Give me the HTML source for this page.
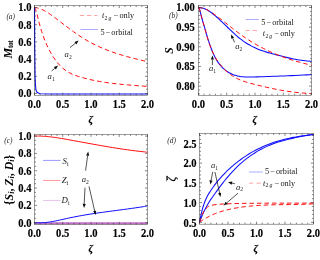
<!DOCTYPE html>
<html><head><meta charset="utf-8"><title>figure</title>
<style>html,body{margin:0;padding:0;background:#fff;}body{width:320px;height:260px;overflow:hidden;font-family:"Liberation Serif",serif;}svg{display:block;font-family:"Liberation Serif",serif;will-change:transform;}</style>
</head><body>
<svg width="320" height="260" viewBox="0 0 320 260">
<rect width="320" height="260" fill="#fff"/>
<path d="M34.45 7.5 C34.56 7.51 34.86 7.53 35.09 7.55 C35.32 7.58 35.55 7.61 35.81 7.64 C36.06 7.68 36.32 7.72 36.6 7.78 C36.88 7.83 37.17 7.89 37.47 7.96 C37.77 8.03 38.09 8.11 38.42 8.21 C38.74 8.3 39.09 8.41 39.44 8.52 C39.79 8.64 40.16 8.77 40.54 8.92 C40.92 9.06 41.31 9.22 41.72 9.4 C42.12 9.57 42.54 9.76 42.97 9.97 C43.4 10.18 43.85 10.4 44.3 10.65 C44.76 10.89 45.23 11.15 45.71 11.42 C46.19 11.7 46.69 12 47.19 12.31 C47.7 12.63 48.22 12.96 48.75 13.31 C49.29 13.66 49.83 14.03 50.39 14.42 C50.95 14.8 51.52 15.21 52.11 15.63 C52.69 16.05 53.29 16.49 53.9 16.94 C54.51 17.39 55.13 17.86 55.77 18.34 C56.4 18.82 57.05 19.32 57.71 19.82 C58.37 20.33 59.04 20.84 59.73 21.37 C60.42 21.89 61.12 22.43 61.83 22.97 C62.54 23.51 63.27 24.07 64 24.63 C64.74 25.19 65.49 25.76 66.26 26.34 C67.02 26.92 67.8 27.5 68.59 28.09 C69.37 28.68 70.18 29.27 70.99 29.87 C71.8 30.47 72.63 31.07 73.47 31.67 C74.31 32.28 75.17 32.88 76.03 33.49 C76.9 34.09 77.78 34.69 78.67 35.29 C79.56 35.89 80.46 36.49 81.38 37.08 C82.3 37.67 83.23 38.25 84.17 38.83 C85.11 39.41 86.07 39.97 87.03 40.53 C88 41.09 88.98 41.64 89.98 42.18 C90.97 42.72 91.98 43.25 93 43.78 C94.02 44.3 95.05 44.81 96.09 45.32 C97.14 45.82 98.2 46.32 99.27 46.8 C100.34 47.28 101.42 47.76 102.52 48.22 C103.61 48.69 104.72 49.15 105.84 49.59 C106.96 50.04 108.1 50.47 109.25 50.9 C110.39 51.33 111.55 51.74 112.73 52.15 C113.9 52.56 115.08 52.96 116.28 53.35 C117.48 53.74 118.69 54.13 119.92 54.5 C121.14 54.88 122.38 55.24 123.63 55.61 C124.88 55.97 126.14 56.32 127.41 56.67 C128.69 57.02 129.98 57.36 131.28 57.7 C132.58 58.04 133.89 58.38 135.22 58.71 C136.54 59.04 137.88 59.37 139.23 59.7 C140.59 60.03 141.95 60.36 143.33 60.69 C144.71 61.02 146.8 61.52 147.5 61.68" fill="none" stroke="#ff0d0d" stroke-width="1.0" stroke-dasharray="4.5 3" stroke-linejoin="round"/>
<path d="M34.45 7.5 C34.56 7.64 34.86 7.9 35.09 8.33 C35.32 8.76 35.55 9.35 35.81 10.08 C36.06 10.82 36.32 11.74 36.6 12.75 C36.88 13.76 37.17 14.96 37.47 16.15 C37.77 17.35 38.09 18.65 38.42 19.92 C38.74 21.2 39.09 22.5 39.44 23.8 C39.79 25.1 40.16 26.42 40.54 27.71 C40.92 29.01 41.31 30.32 41.72 31.59 C42.12 32.87 42.54 34.13 42.97 35.36 C43.4 36.6 43.85 37.81 44.3 38.99 C44.76 40.18 45.23 41.34 45.71 42.47 C46.19 43.61 46.69 44.71 47.19 45.8 C47.7 46.89 48.22 47.95 48.75 49 C49.29 50.05 49.83 51.08 50.39 52.09 C50.95 53.1 51.52 54.1 52.11 55.06 C52.69 56.02 53.29 56.97 53.9 57.88 C54.51 58.79 55.13 59.67 55.77 60.53 C56.4 61.38 57.05 62.21 57.71 63 C58.37 63.79 59.04 64.54 59.73 65.27 C60.42 65.99 61.12 66.68 61.83 67.34 C62.54 67.99 63.27 68.61 64 69.2 C64.74 69.78 65.49 70.33 66.26 70.85 C67.02 71.37 67.8 71.85 68.59 72.31 C69.37 72.76 70.18 73.18 70.99 73.58 C71.8 73.97 72.63 74.34 73.47 74.68 C74.31 75.03 75.17 75.34 76.03 75.65 C76.9 75.96 77.78 76.24 78.67 76.51 C79.56 76.79 80.46 77.06 81.38 77.32 C82.3 77.58 83.23 77.84 84.17 78.09 C85.11 78.34 86.07 78.59 87.03 78.83 C88 79.07 88.98 79.3 89.98 79.53 C90.97 79.76 91.98 79.98 93 80.2 C94.02 80.41 95.05 80.62 96.09 80.82 C97.14 81.03 98.2 81.22 99.27 81.41 C100.34 81.6 101.42 81.78 102.52 81.96 C103.61 82.14 104.72 82.31 105.84 82.48 C106.96 82.64 108.1 82.8 109.25 82.95 C110.39 83.11 111.55 83.25 112.73 83.39 C113.9 83.54 115.08 83.67 116.28 83.81 C117.48 83.94 118.69 84.06 119.92 84.19 C121.14 84.31 122.38 84.43 123.63 84.54 C124.88 84.66 126.14 84.77 127.41 84.88 C128.69 84.99 129.98 85.09 131.28 85.2 C132.58 85.3 133.89 85.4 135.22 85.51 C136.54 85.61 137.88 85.71 139.23 85.81 C140.59 85.92 141.95 86.02 143.33 86.12 C144.71 86.23 146.8 86.39 147.5 86.45" fill="none" stroke="#ff0d0d" stroke-width="1.0" stroke-dasharray="4.5 3" stroke-linejoin="round"/>
<path d="M34.51 7.5 L34.73 50.5 L35.07 76.3 L35.52 86.02 L35.98 90.06 L36.99 92.21 L38.97 93.33 L40.1 93.76 L51.41 94.02 L147.5 94.02" fill="none" stroke="#0d0dff" stroke-width="1.1" stroke-linejoin="round"/>
<rect x="34.45" y="5.5" width="113.05" height="89.7" fill="none" stroke="#1a1a1a" stroke-width="0.42"/>
<path d="M34.45 95.2v-2.5 M34.45 5.5v2.5 M62.71 95.2v-2.5 M62.71 5.5v2.5 M90.97 95.2v-2.5 M90.97 5.5v2.5 M119.24 95.2v-2.5 M119.24 5.5v2.5 M147.5 95.2v-2.5 M147.5 5.5v2.5 M40.1 95.2v-1.5 M40.1 5.5v1.5 M45.76 95.2v-1.5 M45.76 5.5v1.5 M51.41 95.2v-1.5 M51.41 5.5v1.5 M57.06 95.2v-1.5 M57.06 5.5v1.5 M68.37 95.2v-1.5 M68.37 5.5v1.5 M74.02 95.2v-1.5 M74.02 5.5v1.5 M79.67 95.2v-1.5 M79.67 5.5v1.5 M85.32 95.2v-1.5 M85.32 5.5v1.5 M96.63 95.2v-1.5 M96.63 5.5v1.5 M102.28 95.2v-1.5 M102.28 5.5v1.5 M107.93 95.2v-1.5 M107.93 5.5v1.5 M113.58 95.2v-1.5 M113.58 5.5v1.5 M124.89 95.2v-1.5 M124.89 5.5v1.5 M130.54 95.2v-1.5 M130.54 5.5v1.5 M136.19 95.2v-1.5 M136.19 5.5v1.5 M141.85 95.2v-1.5 M141.85 5.5v1.5 M34.45 93.5h2.5 M147.5 93.5h-2.5 M34.45 76.3h2.5 M147.5 76.3h-2.5 M34.45 59.1h2.5 M147.5 59.1h-2.5 M34.45 41.9h2.5 M147.5 41.9h-2.5 M34.45 24.7h2.5 M147.5 24.7h-2.5 M34.45 7.5h2.5 M147.5 7.5h-2.5 M34.45 89.2h1.5 M147.5 89.2h-1.5 M34.45 84.9h1.5 M147.5 84.9h-1.5 M34.45 80.6h1.5 M147.5 80.6h-1.5 M34.45 72h1.5 M147.5 72h-1.5 M34.45 67.7h1.5 M147.5 67.7h-1.5 M34.45 63.4h1.5 M147.5 63.4h-1.5 M34.45 54.8h1.5 M147.5 54.8h-1.5 M34.45 50.5h1.5 M147.5 50.5h-1.5 M34.45 46.2h1.5 M147.5 46.2h-1.5 M34.45 37.6h1.5 M147.5 37.6h-1.5 M34.45 33.3h1.5 M147.5 33.3h-1.5 M34.45 29h1.5 M147.5 29h-1.5 M34.45 20.4h1.5 M147.5 20.4h-1.5 M34.45 16.1h1.5 M147.5 16.1h-1.5 M34.45 11.8h1.5 M147.5 11.8h-1.5" fill="none" stroke="#333" stroke-width="0.6"/>
<text transform="translate(31.5 97.3) scale(0.88 1)" font-size="12" font-weight="bold" font-style="normal" text-anchor="end" fill="#000" stroke="#000" stroke-width="0.15">0.0</text>
<text transform="translate(31.5 80.1) scale(0.88 1)" font-size="12" font-weight="bold" font-style="normal" text-anchor="end" fill="#000" stroke="#000" stroke-width="0.15">0.2</text>
<text transform="translate(31.5 62.9) scale(0.88 1)" font-size="12" font-weight="bold" font-style="normal" text-anchor="end" fill="#000" stroke="#000" stroke-width="0.15">0.4</text>
<text transform="translate(31.5 45.7) scale(0.88 1)" font-size="12" font-weight="bold" font-style="normal" text-anchor="end" fill="#000" stroke="#000" stroke-width="0.15">0.6</text>
<text transform="translate(31.5 28.5) scale(0.88 1)" font-size="12" font-weight="bold" font-style="normal" text-anchor="end" fill="#000" stroke="#000" stroke-width="0.15">0.8</text>
<text transform="translate(31.5 11.3) scale(0.88 1)" font-size="12" font-weight="bold" font-style="normal" text-anchor="end" fill="#000" stroke="#000" stroke-width="0.15">1.0</text>
<text transform="translate(34.45 108) scale(0.88 1)" font-size="12" font-weight="bold" font-style="normal" text-anchor="middle" fill="#000" stroke="#000" stroke-width="0.15">0.0</text>
<text transform="translate(62.71 108) scale(0.88 1)" font-size="12" font-weight="bold" font-style="normal" text-anchor="middle" fill="#000" stroke="#000" stroke-width="0.15">0.5</text>
<text transform="translate(90.97 108) scale(0.88 1)" font-size="12" font-weight="bold" font-style="normal" text-anchor="middle" fill="#000" stroke="#000" stroke-width="0.15">1.0</text>
<text transform="translate(119.24 108) scale(0.88 1)" font-size="12" font-weight="bold" font-style="normal" text-anchor="middle" fill="#000" stroke="#000" stroke-width="0.15">1.5</text>
<text transform="translate(147.5 108) scale(0.88 1)" font-size="12" font-weight="bold" font-style="normal" text-anchor="middle" fill="#000" stroke="#000" stroke-width="0.15">2.0</text>
<text x="90.7" y="122.7" font-size="10.5" font-weight="bold" font-style="italic" text-anchor="middle" fill="#000" stroke="#000" stroke-width="0.15">&#950;</text>
<text transform="translate(12.4 58.6) rotate(-90)" font-size="12" font-weight="bold" font-style="italic" text-anchor="start">M<tspan font-size="7.4" font-style="normal" dy="0.9" letter-spacing="-0.45">tot</tspan></text>
<text x="10.7" y="18.5" font-size="7.4" font-weight="normal" font-style="italic" text-anchor="middle" fill="#222" >(a)</text>
<path d="M79.8 15.5H97.4" stroke="#ff0d0d" stroke-width="0.6" stroke-dasharray="4.3 2.9" fill="none" opacity="0.62"/>
<path d="M80.4 29.5H97.9" stroke="#0d0dff" stroke-width="0.6" fill="none" opacity="0.58"/>
<text y="17.8" font-size="8.25" fill="#1a1a1a"><tspan x="102" font-style="italic">t</tspan><tspan x="104.6" dy="1.7" font-size="5.8">2</tspan><tspan x="108.5" font-size="5.8" font-style="italic">g</tspan><tspan x="113.8" dy="-1.7">&#8722;</tspan><tspan x="119.4">only</tspan></text>
<text y="34.8" font-size="8.25" fill="#1a1a1a"><tspan x="100.4">5</tspan><tspan x="105.8">&#8722;</tspan><tspan x="111.3">orbital</tspan></text>
<text x="64.6" y="57.2" font-size="8.6" font-style="italic" font-weight="normal" fill="#222">a<tspan font-size="5.6" font-style="normal" dy="1.8">2</tspan></text>
<text x="47.6" y="79.2" font-size="8.6" font-style="italic" font-weight="normal" fill="#222">a<tspan font-size="5.6" font-style="normal" dy="1.8">1</tspan></text>
<path d="M70 47.6L75.42 43.19" stroke="#0a0a0a" stroke-width="0.7" fill="none"/>
<path d="M78.6 40.6L76.4 44.39L74.44 41.99Z" fill="#0a0a0a"/>
<path d="M51.6 71L54.87 68.24" stroke="#0a0a0a" stroke-width="0.7" fill="none"/>
<path d="M58 65.6L55.87 69.43L53.87 67.06Z" fill="#0a0a0a"/>
<path d="M198.45 7.7 C198.56 7.69 198.86 7.67 199.09 7.67 C199.32 7.66 199.56 7.66 199.81 7.67 C200.06 7.68 200.32 7.7 200.6 7.73 C200.88 7.76 201.17 7.8 201.47 7.85 C201.77 7.9 202.09 7.97 202.42 8.05 C202.75 8.13 203.09 8.22 203.44 8.33 C203.8 8.45 204.16 8.57 204.54 8.72 C204.92 8.87 205.32 9.04 205.72 9.23 C206.13 9.41 206.54 9.62 206.97 9.85 C207.41 10.08 207.85 10.33 208.31 10.61 C208.76 10.89 209.23 11.18 209.71 11.51 C210.2 11.83 210.69 12.18 211.2 12.55 C211.71 12.92 212.23 13.31 212.76 13.73 C213.29 14.15 213.84 14.59 214.4 15.05 C214.96 15.52 215.53 16 216.11 16.51 C216.7 17.02 217.3 17.55 217.91 18.1 C218.52 18.64 219.14 19.22 219.77 19.81 C220.41 20.4 221.06 21.01 221.72 21.64 C222.38 22.26 223.06 22.91 223.74 23.58 C224.43 24.24 225.13 24.92 225.84 25.62 C226.55 26.31 227.28 27.02 228.02 27.74 C228.76 28.46 229.51 29.19 230.27 29.92 C231.03 30.66 231.81 31.4 232.6 32.14 C233.39 32.88 234.19 33.63 235.01 34.37 C235.82 35.11 236.65 35.84 237.49 36.56 C238.33 37.28 239.18 37.99 240.05 38.68 C240.92 39.37 241.79 40.04 242.69 40.68 C243.58 41.33 244.48 41.95 245.4 42.55 C246.32 43.15 247.25 43.73 248.19 44.29 C249.13 44.84 250.09 45.38 251.06 45.89 C252.03 46.4 253.01 46.89 254 47.36 C255 47.83 256 48.28 257.02 48.72 C258.04 49.15 259.07 49.56 260.12 49.95 C261.17 50.35 262.22 50.72 263.29 51.09 C264.37 51.45 265.45 51.79 266.55 52.13 C267.64 52.47 268.75 52.79 269.87 53.1 C271 53.42 272.13 53.72 273.28 54.02 C274.43 54.33 275.59 54.62 276.76 54.92 C277.93 55.22 279.12 55.52 280.32 55.82 C281.52 56.11 282.73 56.42 283.95 56.72 C285.18 57.01 286.42 57.31 287.67 57.6 C288.92 57.89 290.18 58.18 291.45 58.45 C292.73 58.73 294.02 58.99 295.32 59.24 C296.62 59.49 297.94 59.73 299.26 59.95 C300.59 60.17 301.93 60.37 303.28 60.54 C304.63 60.72 306 60.87 307.38 60.99 C308.76 61.11 310.85 61.21 311.55 61.26" fill="none" stroke="#0d0dff" stroke-width="1.08" stroke-linejoin="round"/>
<path d="M198.45 7.7 C198.56 7.76 198.86 7.64 199.09 8.05 C199.32 8.46 199.56 9.26 199.81 10.16 C200.06 11.05 200.32 12.31 200.6 13.42 C200.88 14.52 201.17 15.68 201.47 16.78 C201.77 17.89 202.09 18.92 202.42 20.05 C202.75 21.18 203.09 22.33 203.44 23.55 C203.8 24.77 204.16 26.05 204.54 27.37 C204.92 28.69 205.32 30.07 205.72 31.46 C206.13 32.86 206.54 34.31 206.97 35.75 C207.41 37.2 207.85 38.68 208.31 40.13 C208.76 41.57 209.23 43.03 209.71 44.43 C210.2 45.84 210.69 47.21 211.2 48.54 C211.71 49.86 212.23 51.15 212.76 52.38 C213.29 53.62 213.84 54.8 214.4 55.94 C214.96 57.07 215.53 58.15 216.11 59.18 C216.7 60.2 217.3 61.17 217.91 62.09 C218.52 63 219.14 63.86 219.77 64.66 C220.41 65.47 221.06 66.21 221.72 66.92 C222.38 67.62 223.06 68.26 223.74 68.87 C224.43 69.47 225.13 70.03 225.84 70.56 C226.55 71.08 227.28 71.57 228.02 72.03 C228.76 72.49 229.51 72.92 230.27 73.31 C231.03 73.7 231.81 74.06 232.6 74.39 C233.39 74.72 234.19 75.01 235.01 75.27 C235.82 75.53 236.65 75.76 237.49 75.96 C238.33 76.15 239.18 76.32 240.05 76.46 C240.92 76.6 241.79 76.71 242.69 76.79 C243.58 76.88 244.48 76.94 245.4 76.98 C246.32 77.02 247.25 77.03 248.19 77.04 C249.13 77.05 250.09 77.03 251.06 77.02 C252.03 77 253.01 76.97 254 76.94 C255 76.92 256 76.89 257.02 76.86 C258.04 76.83 259.07 76.8 260.12 76.76 C261.17 76.73 262.22 76.7 263.29 76.67 C264.37 76.63 265.45 76.6 266.55 76.56 C267.64 76.53 268.75 76.49 269.87 76.45 C271 76.41 272.13 76.37 273.28 76.33 C274.43 76.29 275.59 76.25 276.76 76.21 C277.93 76.16 279.12 76.12 280.32 76.07 C281.52 76.03 282.73 75.98 283.95 75.93 C285.18 75.88 286.42 75.83 287.67 75.78 C288.92 75.72 290.18 75.67 291.45 75.61 C292.73 75.56 294.02 75.5 295.32 75.44 C296.62 75.38 297.94 75.32 299.26 75.26 C300.59 75.19 301.93 75.13 303.28 75.06 C304.63 74.99 306 74.92 307.38 74.85 C308.76 74.78 310.85 74.66 311.55 74.63" fill="none" stroke="#0d0dff" stroke-width="1.08" stroke-linejoin="round"/>
<path d="M198.45 7.7 C198.56 7.7 198.86 7.69 199.09 7.69 C199.32 7.69 199.56 7.7 199.81 7.72 C200.06 7.74 200.32 7.76 200.6 7.79 C200.88 7.83 201.17 7.87 201.47 7.93 C201.77 7.98 202.09 8.05 202.42 8.13 C202.75 8.21 203.09 8.3 203.44 8.41 C203.8 8.52 204.16 8.65 204.54 8.79 C204.92 8.93 205.32 9.08 205.72 9.26 C206.13 9.43 206.54 9.63 206.97 9.84 C207.41 10.05 207.85 10.28 208.31 10.53 C208.76 10.78 209.23 11.05 209.71 11.33 C210.2 11.62 210.69 11.93 211.2 12.26 C211.71 12.58 212.23 12.93 212.76 13.29 C213.29 13.65 213.84 14.03 214.4 14.43 C214.96 14.82 215.53 15.23 216.11 15.66 C216.7 16.08 217.3 16.53 217.91 16.98 C218.52 17.43 219.14 17.9 219.77 18.39 C220.41 18.87 221.06 19.37 221.72 19.88 C222.38 20.39 223.06 20.92 223.74 21.45 C224.43 21.99 225.13 22.54 225.84 23.1 C226.55 23.67 227.28 24.24 228.02 24.82 C228.76 25.41 229.51 26 230.27 26.61 C231.03 27.21 231.81 27.82 232.6 28.44 C233.39 29.05 234.19 29.68 235.01 30.31 C235.82 30.93 236.65 31.57 237.49 32.2 C238.33 32.83 239.18 33.47 240.05 34.1 C240.92 34.73 241.79 35.36 242.69 35.98 C243.58 36.61 244.48 37.23 245.4 37.85 C246.32 38.47 247.25 39.08 248.19 39.69 C249.13 40.3 250.09 40.91 251.06 41.51 C252.03 42.1 253.01 42.7 254 43.29 C255 43.87 256 44.45 257.02 45.03 C258.04 45.6 259.07 46.17 260.12 46.73 C261.17 47.29 262.22 47.85 263.29 48.39 C264.37 48.94 265.45 49.48 266.55 50.01 C267.64 50.54 268.75 51.06 269.87 51.57 C271 52.08 272.13 52.59 273.28 53.08 C274.43 53.58 275.59 54.07 276.76 54.55 C277.93 55.02 279.12 55.49 280.32 55.95 C281.52 56.41 282.73 56.86 283.95 57.3 C285.18 57.74 286.42 58.17 287.67 58.6 C288.92 59.02 290.18 59.43 291.45 59.84 C292.73 60.24 294.02 60.63 295.32 61.02 C296.62 61.4 297.94 61.78 299.26 62.15 C300.59 62.52 301.93 62.87 303.28 63.22 C304.63 63.57 306 63.92 307.38 64.25 C308.76 64.59 310.85 65.07 311.55 65.23" fill="none" stroke="#ff0d0d" stroke-width="1.0" stroke-dasharray="4.5 3" stroke-linejoin="round"/>
<path d="M198.45 7.7 C198.56 7.8 198.86 7.87 199.09 8.3 C199.32 8.73 199.56 9.47 199.81 10.29 C200.06 11.12 200.32 12.24 200.6 13.27 C200.88 14.3 201.17 15.4 201.47 16.49 C201.77 17.59 202.09 18.66 202.42 19.84 C202.75 21.01 203.09 22.23 203.44 23.53 C203.8 24.82 204.16 26.2 204.54 27.6 C204.92 29 205.32 30.47 205.72 31.93 C206.13 33.38 206.54 34.89 206.97 36.34 C207.41 37.79 207.85 39.24 208.31 40.64 C208.76 42.04 209.23 43.42 209.71 44.76 C210.2 46.09 210.69 47.39 211.2 48.65 C211.71 49.9 212.23 51.12 212.76 52.29 C213.29 53.46 213.84 54.58 214.4 55.66 C214.96 56.74 215.53 57.77 216.11 58.75 C216.7 59.74 217.3 60.68 217.91 61.57 C218.52 62.47 219.14 63.32 219.77 64.14 C220.41 64.96 221.06 65.73 221.72 66.49 C222.38 67.25 223.06 67.97 223.74 68.68 C224.43 69.38 225.13 70.07 225.84 70.72 C226.55 71.38 227.28 72.02 228.02 72.63 C228.76 73.23 229.51 73.82 230.27 74.38 C231.03 74.93 231.81 75.47 232.6 75.97 C233.39 76.48 234.19 76.96 235.01 77.42 C235.82 77.87 236.65 78.3 237.49 78.71 C238.33 79.12 239.18 79.51 240.05 79.87 C240.92 80.23 241.79 80.58 242.69 80.9 C243.58 81.23 244.48 81.53 245.4 81.83 C246.32 82.12 247.25 82.4 248.19 82.67 C249.13 82.94 250.09 83.19 251.06 83.45 C252.03 83.71 253.01 83.96 254 84.22 C255 84.47 256 84.73 257.02 84.99 C258.04 85.24 259.07 85.5 260.12 85.75 C261.17 86.01 262.22 86.26 263.29 86.51 C264.37 86.77 265.45 87.02 266.55 87.27 C267.64 87.52 268.75 87.76 269.87 88.01 C271 88.25 272.13 88.49 273.28 88.73 C274.43 88.96 275.59 89.2 276.76 89.42 C277.93 89.65 279.12 89.88 280.32 90.09 C281.52 90.31 282.73 90.52 283.95 90.72 C285.18 90.93 286.42 91.13 287.67 91.31 C288.92 91.5 290.18 91.68 291.45 91.85 C292.73 92.02 294.02 92.18 295.32 92.33 C296.62 92.48 297.94 92.62 299.26 92.75 C300.59 92.87 301.93 92.99 303.28 93.09 C304.63 93.18 306 93.27 307.38 93.34 C308.76 93.41 310.85 93.47 311.55 93.49" fill="none" stroke="#ff0d0d" stroke-width="1.0" stroke-dasharray="4.5 3" stroke-linejoin="round"/>
<rect x="198.45" y="5.6" width="113.1" height="89.6" fill="none" stroke="#1a1a1a" stroke-width="0.42"/>
<path d="M198.45 95.2v-2.5 M198.45 5.6v2.5 M226.72 95.2v-2.5 M226.72 5.6v2.5 M255 95.2v-2.5 M255 5.6v2.5 M283.27 95.2v-2.5 M283.27 5.6v2.5 M311.55 95.2v-2.5 M311.55 5.6v2.5 M204.1 95.2v-1.5 M204.1 5.6v1.5 M209.76 95.2v-1.5 M209.76 5.6v1.5 M215.41 95.2v-1.5 M215.41 5.6v1.5 M221.07 95.2v-1.5 M221.07 5.6v1.5 M232.38 95.2v-1.5 M232.38 5.6v1.5 M238.03 95.2v-1.5 M238.03 5.6v1.5 M243.69 95.2v-1.5 M243.69 5.6v1.5 M249.34 95.2v-1.5 M249.34 5.6v1.5 M260.66 95.2v-1.5 M260.66 5.6v1.5 M266.31 95.2v-1.5 M266.31 5.6v1.5 M271.97 95.2v-1.5 M271.97 5.6v1.5 M277.62 95.2v-1.5 M277.62 5.6v1.5 M288.93 95.2v-1.5 M288.93 5.6v1.5 M294.59 95.2v-1.5 M294.59 5.6v1.5 M300.24 95.2v-1.5 M300.24 5.6v1.5 M305.89 95.2v-1.5 M305.89 5.6v1.5 M198.45 86.1h2.5 M311.55 86.1h-2.5 M198.45 66.45h2.5 M311.55 66.45h-2.5 M198.45 46.8h2.5 M311.55 46.8h-2.5 M198.45 27.15h2.5 M311.55 27.15h-2.5 M198.45 7.5h2.5 M311.55 7.5h-2.5 M198.45 93.96h1.5 M311.55 93.96h-1.5 M198.45 90.03h1.5 M311.55 90.03h-1.5 M198.45 82.17h1.5 M311.55 82.17h-1.5 M198.45 78.24h1.5 M311.55 78.24h-1.5 M198.45 74.31h1.5 M311.55 74.31h-1.5 M198.45 70.38h1.5 M311.55 70.38h-1.5 M198.45 62.52h1.5 M311.55 62.52h-1.5 M198.45 58.59h1.5 M311.55 58.59h-1.5 M198.45 54.66h1.5 M311.55 54.66h-1.5 M198.45 50.73h1.5 M311.55 50.73h-1.5 M198.45 42.87h1.5 M311.55 42.87h-1.5 M198.45 38.94h1.5 M311.55 38.94h-1.5 M198.45 35.01h1.5 M311.55 35.01h-1.5 M198.45 31.08h1.5 M311.55 31.08h-1.5 M198.45 23.22h1.5 M311.55 23.22h-1.5 M198.45 19.29h1.5 M311.55 19.29h-1.5 M198.45 15.36h1.5 M311.55 15.36h-1.5 M198.45 11.43h1.5 M311.55 11.43h-1.5" fill="none" stroke="#333" stroke-width="0.6"/>
<text transform="translate(194.8 89.9) scale(0.88 1)" font-size="12" font-weight="bold" font-style="normal" text-anchor="end" fill="#000" stroke="#000" stroke-width="0.15">0.80</text>
<text transform="translate(194.8 70.25) scale(0.88 1)" font-size="12" font-weight="bold" font-style="normal" text-anchor="end" fill="#000" stroke="#000" stroke-width="0.15">0.85</text>
<text transform="translate(194.8 50.6) scale(0.88 1)" font-size="12" font-weight="bold" font-style="normal" text-anchor="end" fill="#000" stroke="#000" stroke-width="0.15">0.90</text>
<text transform="translate(194.8 30.95) scale(0.88 1)" font-size="12" font-weight="bold" font-style="normal" text-anchor="end" fill="#000" stroke="#000" stroke-width="0.15">0.95</text>
<text transform="translate(194.8 11.3) scale(0.88 1)" font-size="12" font-weight="bold" font-style="normal" text-anchor="end" fill="#000" stroke="#000" stroke-width="0.15">1.00</text>
<text transform="translate(198.45 108) scale(0.88 1)" font-size="12" font-weight="bold" font-style="normal" text-anchor="middle" fill="#000" stroke="#000" stroke-width="0.15">0.0</text>
<text transform="translate(226.72 108) scale(0.88 1)" font-size="12" font-weight="bold" font-style="normal" text-anchor="middle" fill="#000" stroke="#000" stroke-width="0.15">0.5</text>
<text transform="translate(255 108) scale(0.88 1)" font-size="12" font-weight="bold" font-style="normal" text-anchor="middle" fill="#000" stroke="#000" stroke-width="0.15">1.0</text>
<text transform="translate(283.27 108) scale(0.88 1)" font-size="12" font-weight="bold" font-style="normal" text-anchor="middle" fill="#000" stroke="#000" stroke-width="0.15">1.5</text>
<text transform="translate(311.55 108) scale(0.88 1)" font-size="12" font-weight="bold" font-style="normal" text-anchor="middle" fill="#000" stroke="#000" stroke-width="0.15">2.0</text>
<text x="254.7" y="122.7" font-size="10.5" font-weight="bold" font-style="italic" text-anchor="middle" fill="#000" stroke="#000" stroke-width="0.15">&#950;</text>
<text transform="translate(173.2 50.6) rotate(-90)" font-size="11.5" font-weight="bold" font-style="italic" text-anchor="middle">S</text>
<text x="173.3" y="18" font-size="7.4" font-weight="normal" font-style="italic" text-anchor="middle" fill="#222" >(b)</text>
<path d="M245.7 19.5H258.9" stroke="#0d0dff" stroke-width="0.6" fill="none" opacity="0.58"/>
<path d="M245.5 30.5H258.8" stroke="#ff0d0d" stroke-width="0.6" stroke-dasharray="4.3 2.9" fill="none" opacity="0.62"/>
<text y="25" font-size="8.25" fill="#1a1a1a"><tspan x="261.25">5</tspan><tspan x="266.65">&#8722;</tspan><tspan x="272.15">orbital</tspan></text>
<text y="35.8" font-size="8.25" fill="#1a1a1a"><tspan x="262.8" font-style="italic">t</tspan><tspan x="265.4" dy="1.7" font-size="5.8">2</tspan><tspan x="269.3" font-size="5.8" font-style="italic">g</tspan><tspan x="274.6" dy="-1.7">&#8722;</tspan><tspan x="280.2">only</tspan></text>
<text x="235.2" y="49.2" font-size="8.6" font-style="italic" font-weight="normal" fill="#222">a<tspan font-size="5.6" font-style="normal" dy="1.8">2</tspan></text>
<text x="208.9" y="71" font-size="8.6" font-style="italic" font-weight="normal" fill="#222">a<tspan font-size="5.6" font-style="normal" dy="1.8">1</tspan></text>
<path d="M234.6 42.4L232.68 38.14" stroke="#0a0a0a" stroke-width="0.7" fill="none"/>
<path d="M231 34.4L234.1 37.5L231.27 38.77Z" fill="#0a0a0a"/>
<path d="M212.4 65.2L212.4 59.5" stroke="#0a0a0a" stroke-width="0.7" fill="none"/>
<path d="M212.4 55.4L213.95 59.5L210.85 59.5Z" fill="#0a0a0a"/>
<path d="M34.45 223.31 L147.5 223.31" fill="none" stroke="#c070c8" stroke-width="1.9" stroke-linejoin="round"/>
<path d="M34.45 136.1 C34.56 136.1 34.86 136.09 35.09 136.08 C35.32 136.08 35.55 136.07 35.81 136.07 C36.06 136.06 36.32 136.06 36.6 136.06 C36.88 136.06 37.17 136.06 37.47 136.06 C37.77 136.06 38.09 136.06 38.42 136.07 C38.74 136.07 39.09 136.08 39.44 136.08 C39.79 136.09 40.16 136.1 40.54 136.11 C40.92 136.13 41.31 136.14 41.72 136.16 C42.12 136.18 42.54 136.2 42.97 136.23 C43.4 136.25 43.85 136.28 44.3 136.31 C44.76 136.34 45.23 136.37 45.71 136.41 C46.19 136.45 46.69 136.49 47.19 136.54 C47.7 136.59 48.22 136.64 48.75 136.69 C49.29 136.75 49.83 136.81 50.39 136.87 C50.95 136.93 51.52 137 52.11 137.07 C52.69 137.15 53.29 137.23 53.9 137.31 C54.51 137.39 55.13 137.48 55.77 137.57 C56.4 137.66 57.05 137.76 57.71 137.86 C58.37 137.96 59.04 138.07 59.73 138.18 C60.42 138.29 61.12 138.41 61.83 138.53 C62.54 138.65 63.27 138.77 64 138.9 C64.74 139.03 65.49 139.16 66.26 139.3 C67.02 139.43 67.8 139.57 68.59 139.72 C69.37 139.86 70.18 140 70.99 140.15 C71.8 140.3 72.63 140.45 73.47 140.61 C74.31 140.76 75.17 140.92 76.03 141.07 C76.9 141.23 77.78 141.39 78.67 141.56 C79.56 141.72 80.46 141.89 81.38 142.06 C82.3 142.22 83.23 142.4 84.17 142.57 C85.11 142.74 86.07 142.91 87.03 143.09 C88 143.27 88.98 143.45 89.98 143.63 C90.97 143.81 91.98 143.99 93 144.17 C94.02 144.36 95.05 144.54 96.09 144.73 C97.14 144.91 98.2 145.1 99.27 145.29 C100.34 145.48 101.42 145.67 102.52 145.86 C103.61 146.05 104.72 146.24 105.84 146.43 C106.96 146.62 108.1 146.81 109.25 147 C110.39 147.19 111.55 147.39 112.73 147.58 C113.9 147.77 115.08 147.96 116.28 148.15 C117.48 148.33 118.69 148.52 119.92 148.71 C121.14 148.9 122.38 149.08 123.63 149.26 C124.88 149.45 126.14 149.63 127.41 149.81 C128.69 149.99 129.98 150.16 131.28 150.34 C132.58 150.51 133.89 150.68 135.22 150.84 C136.54 151.01 137.88 151.17 139.23 151.33 C140.59 151.48 141.95 151.64 143.33 151.78 C144.71 151.93 146.8 152.14 147.5 152.21" fill="none" stroke="#ff0d0d" stroke-width="1.0" stroke-linejoin="round"/>
<path d="M34.45 222.7 C34.56 222.7 34.86 222.7 35.09 222.7 C35.32 222.7 35.55 222.7 35.81 222.71 C36.06 222.71 36.32 222.71 36.6 222.71 C36.88 222.71 37.17 222.72 37.47 222.72 C37.77 222.72 38.09 222.72 38.42 222.72 C38.74 222.73 39.09 222.73 39.44 222.73 C39.79 222.73 40.16 222.73 40.54 222.72 C40.92 222.72 41.31 222.71 41.72 222.7 C42.12 222.7 42.54 222.68 42.97 222.67 C43.4 222.65 43.85 222.63 44.3 222.6 C44.76 222.58 45.23 222.54 45.71 222.5 C46.19 222.46 46.69 222.41 47.19 222.35 C47.7 222.29 48.22 222.22 48.75 222.14 C49.29 222.07 49.83 221.98 50.39 221.89 C50.95 221.8 51.52 221.7 52.11 221.6 C52.69 221.5 53.29 221.39 53.9 221.27 C54.51 221.16 55.13 221.04 55.77 220.91 C56.4 220.78 57.05 220.65 57.71 220.51 C58.37 220.37 59.04 220.23 59.73 220.08 C60.42 219.93 61.12 219.78 61.83 219.62 C62.54 219.46 63.27 219.3 64 219.14 C64.74 218.98 65.49 218.81 66.26 218.64 C67.02 218.47 67.8 218.3 68.59 218.13 C69.37 217.96 70.18 217.79 70.99 217.62 C71.8 217.45 72.63 217.28 73.47 217.11 C74.31 216.94 75.17 216.77 76.03 216.6 C76.9 216.44 77.78 216.27 78.67 216.1 C79.56 215.94 80.46 215.77 81.38 215.61 C82.3 215.45 83.23 215.29 84.17 215.13 C85.11 214.96 86.07 214.8 87.03 214.64 C88 214.49 88.98 214.33 89.98 214.17 C90.97 214.01 91.98 213.86 93 213.7 C94.02 213.55 95.05 213.39 96.09 213.24 C97.14 213.08 98.2 212.93 99.27 212.78 C100.34 212.62 101.42 212.47 102.52 212.32 C103.61 212.17 104.72 212.01 105.84 211.86 C106.96 211.71 108.1 211.56 109.25 211.4 C110.39 211.25 111.55 211.09 112.73 210.94 C113.9 210.78 115.08 210.63 116.28 210.47 C117.48 210.31 118.69 210.15 119.92 209.99 C121.14 209.83 122.38 209.66 123.63 209.5 C124.88 209.33 126.14 209.16 127.41 208.99 C128.69 208.81 129.98 208.63 131.28 208.45 C132.58 208.27 133.89 208.08 135.22 207.89 C136.54 207.7 137.88 207.5 139.23 207.3 C140.59 207.09 141.95 206.88 143.33 206.67 C144.71 206.45 146.8 206.1 147.5 205.99" fill="none" stroke="#0d0dff" stroke-width="1.0" stroke-linejoin="round"/>
<rect x="34.45" y="134.4" width="113.05" height="90" fill="none" stroke="#1a1a1a" stroke-width="0.42"/>
<path d="M34.45 224.4v-2.5 M34.45 134.4v2.5 M62.71 224.4v-2.5 M62.71 134.4v2.5 M90.97 224.4v-2.5 M90.97 134.4v2.5 M119.24 224.4v-2.5 M119.24 134.4v2.5 M147.5 224.4v-2.5 M147.5 134.4v2.5 M40.1 224.4v-1.5 M40.1 134.4v1.5 M45.76 224.4v-1.5 M45.76 134.4v1.5 M51.41 224.4v-1.5 M51.41 134.4v1.5 M57.06 224.4v-1.5 M57.06 134.4v1.5 M68.37 224.4v-1.5 M68.37 134.4v1.5 M74.02 224.4v-1.5 M74.02 134.4v1.5 M79.67 224.4v-1.5 M79.67 134.4v1.5 M85.32 224.4v-1.5 M85.32 134.4v1.5 M96.63 224.4v-1.5 M96.63 134.4v1.5 M102.28 224.4v-1.5 M102.28 134.4v1.5 M107.93 224.4v-1.5 M107.93 134.4v1.5 M113.58 224.4v-1.5 M113.58 134.4v1.5 M124.89 224.4v-1.5 M124.89 134.4v1.5 M130.54 224.4v-1.5 M130.54 134.4v1.5 M136.19 224.4v-1.5 M136.19 134.4v1.5 M141.85 224.4v-1.5 M141.85 134.4v1.5 M34.45 222.7h2.5 M147.5 222.7h-2.5 M34.45 205.38h2.5 M147.5 205.38h-2.5 M34.45 188.06h2.5 M147.5 188.06h-2.5 M34.45 170.74h2.5 M147.5 170.74h-2.5 M34.45 153.42h2.5 M147.5 153.42h-2.5 M34.45 136.1h2.5 M147.5 136.1h-2.5 M34.45 218.37h1.5 M147.5 218.37h-1.5 M34.45 214.04h1.5 M147.5 214.04h-1.5 M34.45 209.71h1.5 M147.5 209.71h-1.5 M34.45 201.05h1.5 M147.5 201.05h-1.5 M34.45 196.72h1.5 M147.5 196.72h-1.5 M34.45 192.39h1.5 M147.5 192.39h-1.5 M34.45 183.73h1.5 M147.5 183.73h-1.5 M34.45 179.4h1.5 M147.5 179.4h-1.5 M34.45 175.07h1.5 M147.5 175.07h-1.5 M34.45 166.41h1.5 M147.5 166.41h-1.5 M34.45 162.08h1.5 M147.5 162.08h-1.5 M34.45 157.75h1.5 M147.5 157.75h-1.5 M34.45 149.09h1.5 M147.5 149.09h-1.5 M34.45 144.76h1.5 M147.5 144.76h-1.5 M34.45 140.43h1.5 M147.5 140.43h-1.5" fill="none" stroke="#333" stroke-width="0.6"/>
<text transform="translate(31.5 226.5) scale(0.88 1)" font-size="12" font-weight="bold" font-style="normal" text-anchor="end" fill="#000" stroke="#000" stroke-width="0.15">0.0</text>
<text transform="translate(31.5 209.18) scale(0.88 1)" font-size="12" font-weight="bold" font-style="normal" text-anchor="end" fill="#000" stroke="#000" stroke-width="0.15">0.2</text>
<text transform="translate(31.5 191.86) scale(0.88 1)" font-size="12" font-weight="bold" font-style="normal" text-anchor="end" fill="#000" stroke="#000" stroke-width="0.15">0.4</text>
<text transform="translate(31.5 174.54) scale(0.88 1)" font-size="12" font-weight="bold" font-style="normal" text-anchor="end" fill="#000" stroke="#000" stroke-width="0.15">0.6</text>
<text transform="translate(31.5 157.22) scale(0.88 1)" font-size="12" font-weight="bold" font-style="normal" text-anchor="end" fill="#000" stroke="#000" stroke-width="0.15">0.8</text>
<text transform="translate(31.5 139.9) scale(0.88 1)" font-size="12" font-weight="bold" font-style="normal" text-anchor="end" fill="#000" stroke="#000" stroke-width="0.15">1.0</text>
<text transform="translate(34.45 237.2) scale(0.88 1)" font-size="12" font-weight="bold" font-style="normal" text-anchor="middle" fill="#000" stroke="#000" stroke-width="0.15">0.0</text>
<text transform="translate(62.71 237.2) scale(0.88 1)" font-size="12" font-weight="bold" font-style="normal" text-anchor="middle" fill="#000" stroke="#000" stroke-width="0.15">0.5</text>
<text transform="translate(90.97 237.2) scale(0.88 1)" font-size="12" font-weight="bold" font-style="normal" text-anchor="middle" fill="#000" stroke="#000" stroke-width="0.15">1.0</text>
<text transform="translate(119.24 237.2) scale(0.88 1)" font-size="12" font-weight="bold" font-style="normal" text-anchor="middle" fill="#000" stroke="#000" stroke-width="0.15">1.5</text>
<text transform="translate(147.5 237.2) scale(0.88 1)" font-size="12" font-weight="bold" font-style="normal" text-anchor="middle" fill="#000" stroke="#000" stroke-width="0.15">2.0</text>
<text x="90.7" y="251.7" font-size="10.5" font-weight="bold" font-style="italic" text-anchor="middle" fill="#000" stroke="#000" stroke-width="0.15">&#950;</text>
<text transform="translate(12.5 180) rotate(-90)" font-size="11.8" font-weight="bold" text-anchor="middle">{<tspan font-style="italic">S<tspan font-size="8" dy="1.6">i</tspan></tspan><tspan dy="-1.6">, </tspan><tspan font-style="italic">Z<tspan font-size="8" dy="1.6">i</tspan></tspan><tspan dy="-1.6">, </tspan><tspan font-style="italic">D<tspan font-size="8" dy="1.6">i</tspan></tspan><tspan dy="-1.6">}</tspan></text>
<text x="8.4" y="142.9" font-size="7.4" font-weight="normal" font-style="italic" text-anchor="middle" fill="#222" >(c)</text>
<path d="M43 160.4H60.5" stroke="#0d0dff" stroke-width="0.6" fill="none" opacity="0.7"/>
<text x="62.6" y="164.4" font-size="8.8" font-style="italic" font-weight="normal" fill="#1a1a1a">S<tspan font-size="6" font-style="normal" dy="1.8">i</tspan></text>
<path d="M43 180.45H60.5" stroke="#ff0d0d" stroke-width="0.6" fill="none" opacity="0.7"/>
<text x="61.8" y="183" font-size="8.8" font-style="italic" font-weight="normal" fill="#1a1a1a">Z<tspan font-size="6" font-style="normal" dy="1.8">i</tspan></text>
<path d="M43 200.45H60.5" stroke="#c070c8" stroke-width="0.6" fill="none" opacity="0.7"/>
<text x="61.6" y="203" font-size="8.8" font-style="italic" font-weight="normal" fill="#1a1a1a">D<tspan font-size="6" font-style="normal" dy="1.8">i</tspan></text>
<text x="81.8" y="182" font-size="8.6" font-style="italic" font-weight="normal" fill="#222">a<tspan font-size="5.6" font-style="normal" dy="1.8">2</tspan></text>
<path d="M85.6 170.6L87.64 155.66" stroke="#0a0a0a" stroke-width="0.7" fill="none"/>
<path d="M88.2 151.6L89.18 155.87L86.11 155.45Z" fill="#0a0a0a"/>
<path d="M85 187.6L84.2 203.9" stroke="#0a0a0a" stroke-width="0.7" fill="none"/>
<path d="M84 208L82.65 203.83L85.75 203.98Z" fill="#0a0a0a"/>
<path d="M89 186.4L94.68 211" stroke="#0a0a0a" stroke-width="0.7" fill="none"/>
<path d="M95.6 215L93.17 211.35L96.19 210.66Z" fill="#0a0a0a"/>
<path d="M199.5 222.3 C199.61 221.74 199.92 220.07 200.14 218.94 C200.37 217.81 200.61 216.65 200.87 215.51 C201.12 214.36 201.39 213.2 201.67 212.07 C201.95 210.94 202.24 209.82 202.54 208.72 C202.85 207.63 203.17 206.56 203.5 205.52 C203.83 204.49 204.17 203.48 204.53 202.52 C204.89 201.56 205.26 200.63 205.64 199.74 C206.02 198.86 206.42 198.01 206.82 197.2 C207.23 196.39 207.65 195.62 208.09 194.86 C208.52 194.1 208.97 193.38 209.43 192.65 C209.89 191.92 210.36 191.19 210.85 190.46 C211.33 189.73 211.83 189 212.34 188.26 C212.86 187.52 213.38 186.78 213.92 186.05 C214.46 185.31 215.01 184.57 215.57 183.83 C216.13 183.1 216.71 182.36 217.3 181.63 C217.89 180.9 218.49 180.17 219.1 179.44 C219.72 178.72 220.34 177.99 220.98 177.28 C221.63 176.56 222.28 175.85 222.95 175.14 C223.61 174.43 224.29 173.73 224.98 173.03 C225.67 172.33 226.38 171.64 227.1 170.95 C227.82 170.26 228.55 169.58 229.29 168.9 C230.03 168.21 230.79 167.54 231.56 166.86 C232.33 166.19 233.11 165.52 233.91 164.85 C234.7 164.18 235.51 163.52 236.33 162.86 C237.15 162.21 237.99 161.56 238.83 160.91 C239.68 160.27 240.54 159.63 241.41 159 C242.28 158.37 243.17 157.75 244.07 157.13 C244.97 156.52 245.88 155.92 246.8 155.32 C247.73 154.72 248.66 154.14 249.61 153.56 C250.56 152.99 251.53 152.42 252.5 151.86 C253.48 151.31 254.47 150.77 255.47 150.23 C256.47 149.7 257.49 149.18 258.51 148.67 C259.54 148.17 260.58 147.67 261.63 147.19 C262.69 146.7 263.75 146.23 264.83 145.78 C265.91 145.32 267 144.88 268.11 144.44 C269.21 144.01 270.33 143.6 271.46 143.19 C272.59 142.79 273.73 142.4 274.89 142.03 C276.05 141.65 277.22 141.29 278.4 140.94 C279.58 140.59 280.78 140.25 281.98 139.93 C283.19 139.61 284.41 139.3 285.65 139.01 C286.88 138.71 288.13 138.43 289.39 138.16 C290.65 137.89 291.92 137.63 293.2 137.38 C294.49 137.13 295.79 136.9 297.1 136.67 C298.41 136.45 299.73 136.24 301.07 136.03 C302.41 135.83 303.76 135.63 305.12 135.44 C306.48 135.26 307.86 135.08 309.25 134.91 C310.63 134.73 312.75 134.49 313.45 134.41" fill="none" stroke="#0d0dff" stroke-width="1.05" stroke-linejoin="round"/>
<path d="M199.5 222.3 C199.61 222.01 199.92 221.17 200.14 220.57 C200.37 219.97 200.61 219.35 200.87 218.71 C201.12 218.07 201.39 217.41 201.67 216.73 C201.95 216.06 202.24 215.37 202.54 214.67 C202.85 213.97 203.17 213.25 203.5 212.53 C203.83 211.81 204.17 211.08 204.53 210.35 C204.89 209.62 205.26 208.89 205.64 208.15 C206.02 207.42 206.42 206.68 206.82 205.94 C207.23 205.21 207.65 204.47 208.09 203.74 C208.52 203.01 208.97 202.29 209.43 201.56 C209.89 200.83 210.36 200.11 210.85 199.39 C211.33 198.66 211.83 197.94 212.34 197.21 C212.86 196.47 213.38 195.74 213.92 194.99 C214.46 194.24 215.01 193.48 215.57 192.7 C216.13 191.92 216.71 191.13 217.3 190.33 C217.89 189.53 218.49 188.72 219.1 187.89 C219.72 187.07 220.34 186.24 220.98 185.39 C221.63 184.55 222.28 183.7 222.95 182.85 C223.61 182 224.29 181.14 224.98 180.28 C225.67 179.42 226.38 178.55 227.1 177.69 C227.82 176.83 228.55 175.97 229.29 175.12 C230.03 174.27 230.79 173.42 231.56 172.57 C232.33 171.73 233.11 170.9 233.91 170.07 C234.7 169.24 235.51 168.42 236.33 167.61 C237.15 166.8 237.99 166 238.83 165.22 C239.68 164.43 240.54 163.65 241.41 162.89 C242.28 162.12 243.17 161.37 244.07 160.63 C244.97 159.89 245.88 159.16 246.8 158.45 C247.73 157.74 248.66 157.04 249.61 156.36 C250.56 155.68 251.53 155.01 252.5 154.36 C253.48 153.71 254.47 153.07 255.47 152.45 C256.47 151.84 257.49 151.23 258.51 150.65 C259.54 150.07 260.58 149.5 261.63 148.95 C262.69 148.4 263.75 147.87 264.83 147.35 C265.91 146.84 267 146.34 268.11 145.86 C269.21 145.38 270.33 144.92 271.46 144.47 C272.59 144.03 273.73 143.6 274.89 143.19 C276.05 142.77 277.22 142.38 278.4 142 C279.58 141.62 280.78 141.26 281.98 140.91 C283.19 140.56 284.41 140.23 285.65 139.9 C286.88 139.58 288.13 139.28 289.39 138.98 C290.65 138.68 291.92 138.4 293.2 138.12 C294.49 137.85 295.79 137.58 297.1 137.33 C298.41 137.07 299.73 136.82 301.07 136.57 C302.41 136.33 303.76 136.09 305.12 135.85 C306.48 135.61 307.86 135.37 309.25 135.13 C310.63 134.89 312.75 134.53 313.45 134.41" fill="none" stroke="#0d0dff" stroke-width="1.05" stroke-linejoin="round"/>
<path d="M199.5 222.3 C199.87 221.21 200.93 217.68 201.72 215.75 C202.51 213.82 203.29 212.16 204.23 210.74 C205.17 209.32 206.32 208.1 207.36 207.23 C208.41 206.36 208.93 205.95 210.5 205.49 C212.06 205.04 214.68 204.76 216.76 204.51 C218.84 204.26 219.43 204.17 222.97 204 C226.52 203.82 232.43 203.61 238.02 203.48 C243.6 203.36 248.65 203.3 256.48 203.25 C264.3 203.19 275.47 203.15 284.96 203.13 C294.46 203.1 308.7 203.09 313.45 203.09" fill="none" stroke="#ff0d0d" stroke-width="1.0" stroke-dasharray="4.5 3" stroke-linejoin="round"/>
<path d="M199.5 222.3 C199.61 222.22 199.92 222 200.14 221.83 C200.37 221.67 200.61 221.5 200.87 221.32 C201.12 221.15 201.39 220.96 201.67 220.78 C201.95 220.59 202.24 220.39 202.54 220.19 C202.85 219.99 203.17 219.79 203.5 219.58 C203.83 219.37 204.17 219.15 204.53 218.94 C204.89 218.72 205.26 218.5 205.64 218.28 C206.02 218.05 206.42 217.83 206.82 217.6 C207.23 217.37 207.65 217.14 208.09 216.91 C208.52 216.68 208.97 216.45 209.43 216.22 C209.89 215.99 210.36 215.75 210.85 215.52 C211.33 215.29 211.83 215.06 212.34 214.83 C212.86 214.6 213.38 214.38 213.92 214.15 C214.46 213.92 215.01 213.7 215.57 213.48 C216.13 213.26 216.71 213.04 217.3 212.83 C217.89 212.61 218.49 212.4 219.1 212.19 C219.72 211.98 220.34 211.78 220.98 211.58 C221.63 211.38 222.28 211.18 222.95 210.99 C223.61 210.8 224.29 210.61 224.98 210.42 C225.67 210.24 226.38 210.06 227.1 209.88 C227.82 209.71 228.55 209.54 229.29 209.37 C230.03 209.2 230.79 209.04 231.56 208.88 C232.33 208.71 233.11 208.56 233.91 208.4 C234.7 208.25 235.51 208.1 236.33 207.96 C237.15 207.81 237.99 207.67 238.83 207.54 C239.68 207.4 240.54 207.27 241.41 207.15 C242.28 207.02 243.17 206.9 244.07 206.78 C244.97 206.67 245.88 206.56 246.8 206.45 C247.73 206.34 248.66 206.24 249.61 206.15 C250.56 206.05 251.53 205.96 252.5 205.88 C253.48 205.79 254.47 205.71 255.47 205.64 C256.47 205.56 257.49 205.49 258.51 205.43 C259.54 205.36 260.58 205.3 261.63 205.25 C262.69 205.19 263.75 205.14 264.83 205.1 C265.91 205.05 267 205.01 268.11 204.97 C269.21 204.94 270.33 204.9 271.46 204.87 C272.59 204.84 273.73 204.82 274.89 204.79 C276.05 204.77 277.22 204.75 278.4 204.73 C279.58 204.71 280.78 204.69 281.98 204.67 C283.19 204.66 284.41 204.64 285.65 204.62 C286.88 204.61 288.13 204.59 289.39 204.58 C290.65 204.56 291.92 204.54 293.2 204.52 C294.49 204.5 295.79 204.48 297.1 204.45 C298.41 204.43 299.73 204.4 301.07 204.36 C302.41 204.32 303.76 204.28 305.12 204.23 C306.48 204.18 307.86 204.13 309.25 204.06 C310.63 204 312.75 203.87 313.45 203.84" fill="none" stroke="#ff0d0d" stroke-width="1.0" stroke-dasharray="4.5 3" stroke-linejoin="round"/>
<rect x="199.5" y="133.4" width="113.95" height="90.75" fill="none" stroke="#1a1a1a" stroke-width="0.42"/>
<path d="M199.5 224.15v-2.5 M199.5 133.4v2.5 M227.99 224.15v-2.5 M227.99 133.4v2.5 M256.48 224.15v-2.5 M256.48 133.4v2.5 M284.96 224.15v-2.5 M284.96 133.4v2.5 M313.45 224.15v-2.5 M313.45 133.4v2.5 M205.2 224.15v-1.5 M205.2 133.4v1.5 M210.9 224.15v-1.5 M210.9 133.4v1.5 M216.59 224.15v-1.5 M216.59 133.4v1.5 M222.29 224.15v-1.5 M222.29 133.4v1.5 M233.69 224.15v-1.5 M233.69 133.4v1.5 M239.38 224.15v-1.5 M239.38 133.4v1.5 M245.08 224.15v-1.5 M245.08 133.4v1.5 M250.78 224.15v-1.5 M250.78 133.4v1.5 M262.17 224.15v-1.5 M262.17 133.4v1.5 M267.87 224.15v-1.5 M267.87 133.4v1.5 M273.57 224.15v-1.5 M273.57 133.4v1.5 M279.26 224.15v-1.5 M279.26 133.4v1.5 M290.66 224.15v-1.5 M290.66 133.4v1.5 M296.36 224.15v-1.5 M296.36 133.4v1.5 M302.06 224.15v-1.5 M302.06 133.4v1.5 M307.75 224.15v-1.5 M307.75 133.4v1.5 M199.5 222.3h2.5 M313.45 222.3h-2.5 M199.5 202.58h2.5 M313.45 202.58h-2.5 M199.5 182.85h2.5 M313.45 182.85h-2.5 M199.5 163.12h2.5 M313.45 163.12h-2.5 M199.5 143.4h2.5 M313.45 143.4h-2.5 M199.5 218.36h1.5 M313.45 218.36h-1.5 M199.5 214.41h1.5 M313.45 214.41h-1.5 M199.5 210.47h1.5 M313.45 210.47h-1.5 M199.5 206.52h1.5 M313.45 206.52h-1.5 M199.5 198.63h1.5 M313.45 198.63h-1.5 M199.5 194.69h1.5 M313.45 194.69h-1.5 M199.5 190.74h1.5 M313.45 190.74h-1.5 M199.5 186.8h1.5 M313.45 186.8h-1.5 M199.5 178.91h1.5 M313.45 178.91h-1.5 M199.5 174.96h1.5 M313.45 174.96h-1.5 M199.5 171.02h1.5 M313.45 171.02h-1.5 M199.5 167.07h1.5 M313.45 167.07h-1.5 M199.5 159.18h1.5 M313.45 159.18h-1.5 M199.5 155.24h1.5 M313.45 155.24h-1.5 M199.5 151.29h1.5 M313.45 151.29h-1.5 M199.5 147.34h1.5 M313.45 147.34h-1.5 M199.5 139.45h1.5 M313.45 139.45h-1.5 M199.5 135.51h1.5 M313.45 135.51h-1.5" fill="none" stroke="#333" stroke-width="0.6"/>
<text transform="translate(196.6 226.5) scale(0.88 1)" font-size="12" font-weight="bold" font-style="normal" text-anchor="end" fill="#000" stroke="#000" stroke-width="0.15">0.5</text>
<text transform="translate(196.6 206.78) scale(0.88 1)" font-size="12" font-weight="bold" font-style="normal" text-anchor="end" fill="#000" stroke="#000" stroke-width="0.15">1.0</text>
<text transform="translate(196.6 187.05) scale(0.88 1)" font-size="12" font-weight="bold" font-style="normal" text-anchor="end" fill="#000" stroke="#000" stroke-width="0.15">1.5</text>
<text transform="translate(196.6 167.32) scale(0.88 1)" font-size="12" font-weight="bold" font-style="normal" text-anchor="end" fill="#000" stroke="#000" stroke-width="0.15">2.0</text>
<text transform="translate(196.6 147.6) scale(0.88 1)" font-size="12" font-weight="bold" font-style="normal" text-anchor="end" fill="#000" stroke="#000" stroke-width="0.15">2.5</text>
<text transform="translate(199.5 237.2) scale(0.88 1)" font-size="12" font-weight="bold" font-style="normal" text-anchor="middle" fill="#000" stroke="#000" stroke-width="0.15">0.0</text>
<text transform="translate(227.99 237.2) scale(0.88 1)" font-size="12" font-weight="bold" font-style="normal" text-anchor="middle" fill="#000" stroke="#000" stroke-width="0.15">0.5</text>
<text transform="translate(256.48 237.2) scale(0.88 1)" font-size="12" font-weight="bold" font-style="normal" text-anchor="middle" fill="#000" stroke="#000" stroke-width="0.15">1.0</text>
<text transform="translate(284.96 237.2) scale(0.88 1)" font-size="12" font-weight="bold" font-style="normal" text-anchor="middle" fill="#000" stroke="#000" stroke-width="0.15">1.5</text>
<text transform="translate(313.45 237.2) scale(0.88 1)" font-size="12" font-weight="bold" font-style="normal" text-anchor="middle" fill="#000" stroke="#000" stroke-width="0.15">2.0</text>
<text x="255.7" y="251.7" font-size="10.5" font-weight="bold" font-style="italic" text-anchor="middle" fill="#000" stroke="#000" stroke-width="0.15">&#950;</text>
<text transform="translate(175 179) rotate(-90)" font-size="12" font-weight="normal" font-style="italic" text-anchor="middle" stroke="#000" stroke-width="0.25">&#950;</text>
<path d="M166.6 175.8V181.3" stroke="#111" stroke-width="0.6" fill="none"/>
<text x="171.6" y="143" font-size="7.4" font-weight="normal" font-style="italic" text-anchor="middle" fill="#222" >(d)</text>
<path d="M249 172H262.75" stroke="#0d0dff" stroke-width="0.6" fill="none" opacity="0.58"/>
<path d="M249 183.2H261" stroke="#ff0d0d" stroke-width="0.6" stroke-dasharray="4 3.6" fill="none" opacity="0.62"/>
<text y="174" font-size="8.25" fill="#1a1a1a"><tspan x="265">5</tspan><tspan x="270.4">&#8722;</tspan><tspan x="275.9">orbital</tspan></text>
<text y="185.7" font-size="8.25" fill="#1a1a1a"><tspan x="263" font-style="italic">t</tspan><tspan x="265.6" dy="1.7" font-size="5.8">2</tspan><tspan x="269.5" font-size="5.8" font-style="italic">g</tspan><tspan x="274.8" dy="-1.7">&#8722;</tspan><tspan x="280.4">only</tspan></text>
<text x="210.9" y="168.1" font-size="8.6" font-style="italic" font-weight="normal" fill="#222">a<tspan font-size="5.6" font-style="normal" dy="1.8">1</tspan></text>
<text x="236" y="189.5" font-size="8.6" font-style="italic" font-weight="normal" fill="#222">a<tspan font-size="5.6" font-style="normal" dy="1.8">2</tspan></text>
<path d="M212.75 171.9L211.05 180.38" stroke="#0a0a0a" stroke-width="0.7" fill="none"/>
<path d="M210.25 184.4L209.53 180.08L212.57 180.68Z" fill="#0a0a0a"/>
<path d="M214.9 171.9L219.61 193" stroke="#0a0a0a" stroke-width="0.7" fill="none"/>
<path d="M220.5 197L218.09 193.34L221.12 192.66Z" fill="#0a0a0a"/>
<path d="M234.9 183.75L232.01 183.12" stroke="#0a0a0a" stroke-width="0.7" fill="none"/>
<path d="M228 182.25L232.34 181.61L231.68 184.64Z" fill="#0a0a0a"/>
<path d="M238 193.25L226.72 202.84" stroke="#0a0a0a" stroke-width="0.7" fill="none"/>
<path d="M223.6 205.5L225.72 201.66L227.73 204.02Z" fill="#0a0a0a"/>
</svg>
</body></html>
